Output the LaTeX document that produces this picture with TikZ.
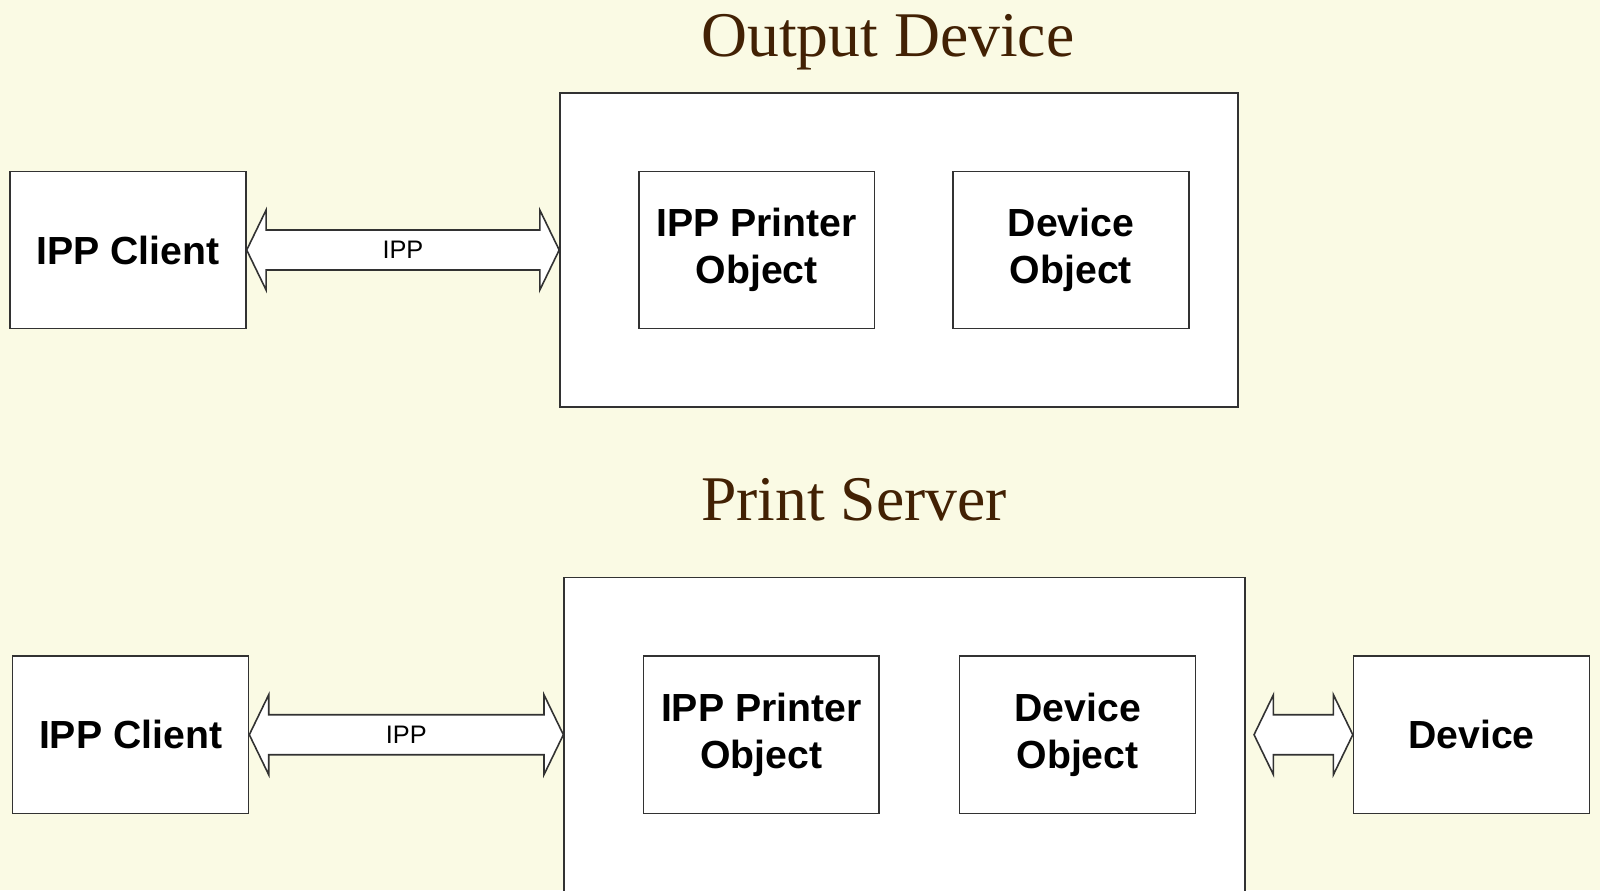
\documentclass[tikz,border=0pt]{standalone}
\usepackage{fontspec}
\setmainfont{Liberation Sans}
\newfontfamily\titlefont{Liberation Serif}
\usetikzlibrary{calc}

\definecolor{bgcream}{RGB}{250,250,228}
\definecolor{titlebrown}{RGB}{66,33,4}
\definecolor{edgegray}{RGB}{50,50,50}

% double headed block arrow between two named points
\newcommand{\fatarrow}[2]{%
  \draw[arrowbody] (#1) -- ($(#1)+(19.4,-40)$) -- ($(#1)+(19.4,-20)$)
    -- ($(#2)+(-19.4,-20)$) -- ($(#2)+(-19.4,-40)$) -- (#2)
    -- ($(#2)+(-19.4,40)$) -- ($(#2)+(-19.4,20)$)
    -- ($(#1)+(19.4,20)$) -- ($(#1)+(19.4,40)$) -- cycle;}

\begin{document}
\begin{tikzpicture}[x=0.01cm,y=-0.01cm,
    box/.style={draw=edgegray,line width=0.45pt,fill=white,minimum width=2.357cm,minimum height=1.572cm,
      align=center,inner sep=0pt,font=\fontsize{11.15}{13.4}\selectfont\bfseries},
    frame/.style={draw=edgegray,line width=0.45pt,fill=white,minimum height=3.142cm,inner sep=0pt},
    heading/.style={anchor=base,text=titlebrown,font=\titlefont\fontsize{18.1}{21}\selectfont},
    arrowbody/.style={draw=edgegray,line width=0.45pt,fill=white,line join=miter},
    ipplabel/.style={font=\fontsize{7.2}{8.6}\selectfont}]
      \useasboundingbox (0,0) rectangle (1600,890);
      \fill[bgcream] (0,0) rectangle (1600,890);
      \clip (0,0) rectangle (1600,890);

% Output Device
\node [heading] (tOut) at (887.8,56.5) {Output Device};
\node [frame,minimum width=6.776cm] (od) at (899,250) {};
\node [box] (cli1) at (128,250) {IPP Client};
\node [box] (ppo1) at (756.7,250) {IPP Printer\\Object};
\node [box] (dvo1) at (1070.9,250) {Device\\Object};
\coordinate (odin) at (od.west);
\fatarrow{cli1.east}{odin}
\node [ipplabel] (lbl1) at ($(cli1.east)!0.5!(odin)$) {IPP};

% Print Server
\node [heading] (tSrv) at (854,520.4) {Print Server};
\node [frame,minimum width=6.807cm] (srv) at (904.7,734.7) {};
\node [box] (cli2) at (130.6,734.7) {IPP Client};
\node [box] (ppo2) at (761.3,734.7) {IPP Printer\\Object};
\node [box] (dvo2) at (1077.6,734.7) {Device\\Object};
\node [box] (dev) at (1471.5,734.7) {Device};
\coordinate (srvin) at (srv.west);
\coordinate (srvout) at ($(srv.east)+(8,0)$);
\fatarrow{cli2.east}{srvin}
\node [ipplabel] (lbl2) at ($(cli2.east)!0.5!(srvin)$) {IPP};
\fatarrow{srvout}{dev.west}
    \end{tikzpicture}
\end{document}
